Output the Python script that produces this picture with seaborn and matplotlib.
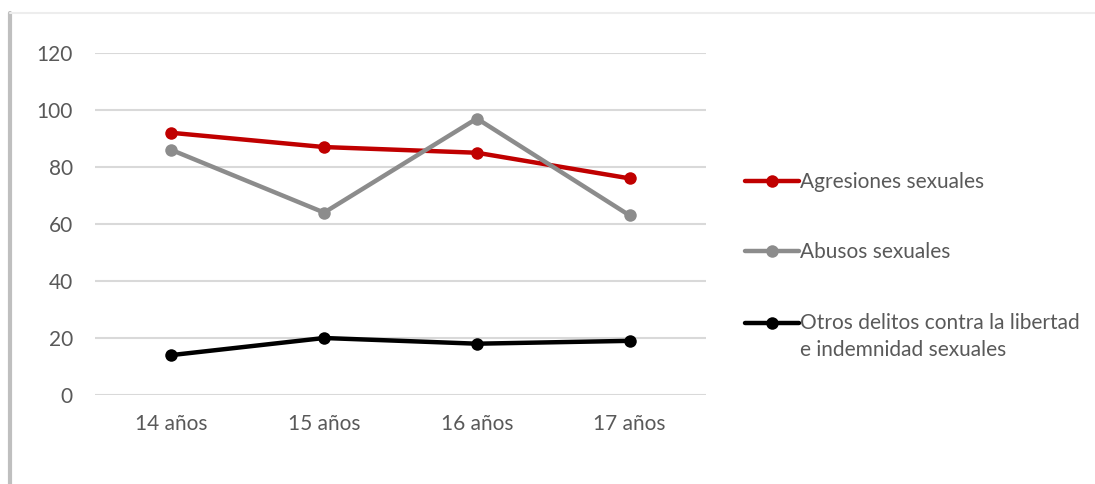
import matplotlib
matplotlib.use("Agg")
import matplotlib.pyplot as plt
from matplotlib.lines import Line2D
from matplotlib.legend_handler import HandlerLine2D
import numpy as np
import pandas as pd
import seaborn as sns

# Datos por edad
edades = ["14 años", "15 años", "16 años", "17 años"]
agresiones = [92, 87, 85, 76]
abusos = [86, 64, 97, 63]
otros = [14, 20, 18, 19]
series = ["Agresiones sexuales", "Abusos sexuales",
          "Otros delitos contra la libertad\ne indemnidad sexuales"]
colores = ["#C00000", "#8C8C8C", "#000000"]
yticks = [0, 20, 40, 60, 80, 100, 120]

df = pd.DataFrame({
    "edad": edades * 3,
    "pos": list(range(len(edades))) * 3,
    "valor": agresiones + abusos + otros,
    "serie": [series[0]] * 4 + [series[1]] * 4 + [series[2]] * 4,
})

sns.set_theme(style="white")
plt.rcParams["font.family"] = ["Lato", "DejaVu Sans"]
text_color = "#595959"
fs = 15

fig = plt.figure(figsize=(10.95, 4.84), dpi=100)
ax = fig.add_axes([95 / 1095, 1 - 395 / 484, (706 - 95) / 1095, (395 - 53) / 484])

sns.lineplot(data=df, x="pos", y="valor", hue="serie", hue_order=series,
             palette=colores, marker="o", markersize=9, linewidth=3.2,
             markeredgewidth=0, legend=False, ax=ax, zorder=3)

ax.set_xlim(-0.5, len(edades) - 0.5)
ax.set_ylim(0, 120)
ax.set_yticks(yticks)
ax.set_xticks(range(len(edades)))
ax.set_xticklabels(edades)
ax.set_xlabel("")
ax.set_ylabel("")
ax.grid(axis="y", color="#D9D9D9", linewidth=1.5, zorder=0)
ax.grid(axis="x", visible=False)
for s in ax.spines.values():
    s.set_visible(False)
ax.tick_params(axis="both", length=0, labelsize=fs, colors=text_color)
ax.tick_params(axis="y", pad=16)
ax.tick_params(axis="x", pad=14)


class FirstLineHandler(HandlerLine2D):
    """Aligns the legend line with the first row of a two-row label."""

    def __init__(self, shift, **kw):
        super().__init__(**kw)
        self.shift = shift

    def create_artists(self, legend, orig_handle, xdescent, ydescent,
                       width, height, fontsize, trans):
        artists = super().create_artists(legend, orig_handle, xdescent, ydescent,
                                         width, height, fontsize, trans)
        for a in artists:
            a.set_ydata(np.asarray(a.get_ydata(), dtype=float) + self.shift * fontsize)
        return artists


handles = [Line2D([0], [0], color=c, linewidth=3.2, marker="o", markersize=9,
                  markeredgewidth=0) for c in colores]
leg = fig.legend(handles, series, loc="upper left",
                 bbox_to_anchor=(745 / 1095, 1 - 172 / 484), frameon=False,
                 fontsize=fs, labelcolor=text_color, handlelength=2.6,
                 handletextpad=0.05, labelspacing=2.42, borderaxespad=0,
                 borderpad=0,
                 handler_map={handles[2]: FirstLineHandler(0.66)})
for t in leg.get_texts():
    t.set_linespacing(1.45)

# Marco con sombra en los bordes izquierdo y superior
fig.add_artist(Line2D([10 / 1095, 10 / 1095], [0, 1 - 13 / 484],
                      transform=fig.transFigure, color="#BFBFBF", linewidth=3))
fig.add_artist(Line2D([10 / 1095, 1], [1 - 13 / 484, 1 - 13 / 484],
                      transform=fig.transFigure, color="#EDEDED", linewidth=1.5))

fig.savefig("out.png", dpi=100, facecolor="white")
